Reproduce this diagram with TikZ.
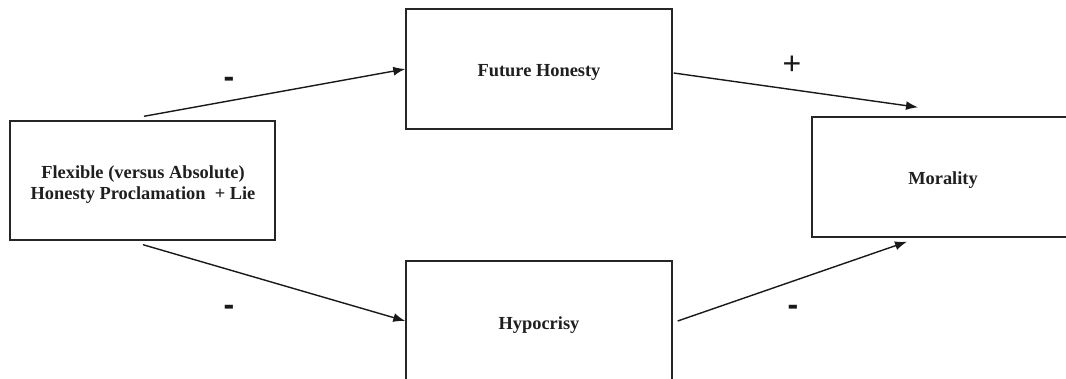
\documentclass[tikz,border=0pt]{standalone}
\usepackage{fontspec}
\setmainfont{Liberation Serif}
\newfontfamily\signfont{Liberation Sans}
\usetikzlibrary{arrows.meta,calc}
\tikzset{
  boxnode/.style={draw=black!85, line width=1.4pt, fill=none, inner sep=0pt},
  boxtext/.style={inner sep=0pt, align=center, text=black!88,
    font=\fontsize{18.4}{21}\selectfont\bfseries},
  arr/.style={draw=black!90, line width=1.4pt, -{Latex[length=12pt,width=9pt]}},
  signlabel/.style={font=\signfont\fontsize{32}{32}\selectfont, inner sep=0pt, text=black!90},
  minuslabel/.style={signlabel, font=\signfont\bfseries\fontsize{32}{32}\selectfont}
}
\begin{document}
\begin{tikzpicture}[x=1pt,y=-1pt]
\useasboundingbox (0,0) rectangle (1066,379);
\clip (0,0) rectangle (1066,379);
\fill[white] (0,0) rectangle (1066,379);
\node[boxnode, minimum width=265pt, minimum height=119pt] (L) at (142.5,180.5) {};
\node[boxnode, minimum width=266pt, minimum height=120pt] (FH) at (539,69) {};
\node[boxnode, minimum width=266pt, minimum height=120pt] (HY) at (539,321) {};
\node[boxnode, minimum width=262pt, minimum height=120pt] (MO) at (943,177) {};

\node[boxtext] (Lt) at (143,184.5) {Flexible (versus Absolute)\\Honesty Proclamation\ \ + Lie};
\node[boxtext] (FHt) at (539,72) {Future Honesty};
\node[boxtext] (HYt) at (539,325) {Hypocrisy};
\node[boxtext] (MOt) at (943,180) {Morality};

\draw[arr] ([xshift=1.5pt,yshift=4pt]L.north) -- (FH.west);
\draw[arr] ([xshift=1pt,yshift=-4pt]FH.east) -- ([xshift=-25pt,yshift=9pt]MO.north);
\draw[arr] ([xshift=0.5pt,yshift=-4pt]L.south) -- (HY.west);
\draw[arr] ([xshift=5pt]HY.east) -- ([xshift=-36pt,yshift=-4pt]MO.south);

\node[minuslabel] (s1) at (229,82) {-};
\node[signlabel] (s2) at (792,65) {+};
\node[minuslabel] (s3) at (229,310) {-};
\node[minuslabel] (s4) at (793,310) {-};
\end{tikzpicture}
\end{document}
